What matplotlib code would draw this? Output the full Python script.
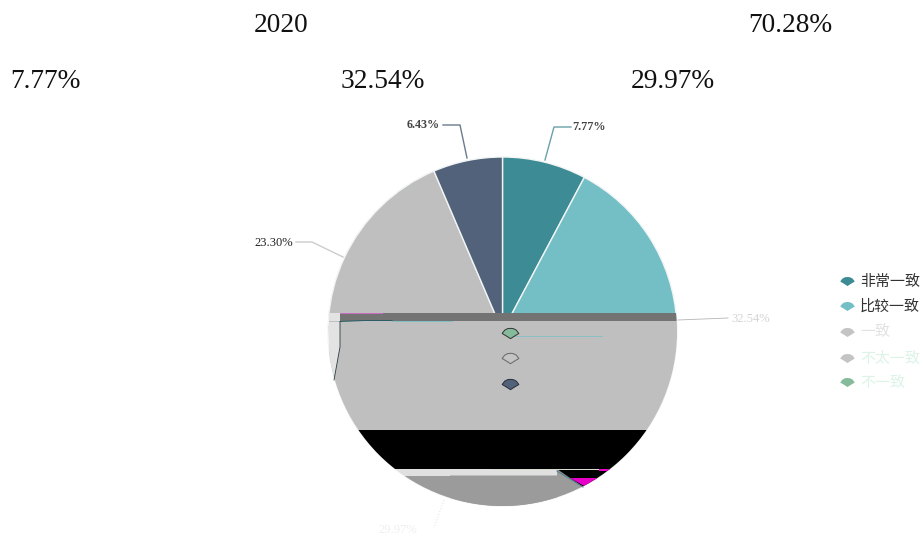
import matplotlib
matplotlib.use('Agg')
import matplotlib.pyplot as plt
from matplotlib.patches import Circle, Polygon, Rectangle
from matplotlib.path import Path

plt.rcParams['font.family'] = ['Liberation Serif', 'DejaVu Serif']

# slices, clockwise from 12 o'clock
categories = ['非常一致', '比较一致', '一致', '不太一致', '不一致']
shares = [7.77, 32.54, 29.97, 23.30, 6.43]
slice_colors = ['#3d8b94', '#74bfc6', '#9b9b9b', '#bfbfbf', '#51627a']
legend_colors = ['#3d8b94', '#74bfc6', '#c4c4c4', '#c4c4c4', '#85bb9a']
legend_text_colors = ['#333333', '#333333', '#e2e2e2', '#dcf3e8', '#dcf3e8']

heading_texts = ['2020', '70.28%', '7.77%', '32.54%', '29.97%']
heading_x = [254, 748, 10, 341, 631]
heading_y = [26, 26, 81, 81, 81]

fig = plt.figure(figsize=(9.23, 5.41), dpi=100)
ax = fig.add_axes([0, 0, 1, 1])

# y runs downwards so everything below is in picture pixels
cx, cy, r = 502.5, 331.5, 174.5
wedges, _ = ax.pie(shares, colors=slice_colors, center=(cx, cy), radius=r,
                   startangle=-90, counterclock=True,
                   wedgeprops={'edgecolor': '#f2f5f5', 'linewidth': 1.0})
ax.set_xlim(0, 923)
ax.set_ylim(541, 0)
ax.axis('off')

for t, x, y in zip(heading_texts, heading_x, heading_y):
    ax.text(x, y, t, fontsize=19.7, color='#111111', ha='left', va='center')

# leader lines and small labels
ax.plot([545, 554, 571], [160, 127, 127], color='#6aa0a8', lw=1)
ax.text(572, 127, '%.2f%%' % shares[0], fontsize=8.7, color='#444444',
        ha='left', va='center', fontweight='bold')
ax.plot([467, 460, 443], [158, 125, 125], color='#6b7a90', lw=1)
ax.text(440, 125, '%.2f%%' % shares[4], fontsize=8.7, color='#444444',
        ha='right', va='center', fontweight='bold')
ax.plot([343, 312, 296], [257, 242, 242], color='#cccccc', lw=1)
ax.text(293, 243, '%.2f%%' % shares[3], fontsize=9, color='#222222',
        ha='right', va='center')
ax.plot([678, 728], [320, 318], color='#b5b5b5', lw=0.6)
ax.text(731, 319, '%.2f%%' % shares[1], fontsize=9, color='#d4d4d4',
        ha='left', va='center')
ax.plot([444, 434], [500, 528], color='#e6e6e6', lw=0.8, ls=':')
ax.text(378, 530, '%.2f%%' % shares[2], fontsize=9, color='#efefef',
        ha='left', va='center')

# the broken bands over the lower half, kept inside the pie circle
clip = Circle((cx, cy), r, transform=ax.transData)
bands = [
    (329, 313, 12, 70, '#e3e3e3'),
    (329, 321, 350, 109, '#bfbfbf'),
    (340, 312.5, 338, 8.5, '#737373'),
    (329, 430, 350, 39, '#000000'),
    (329, 469, 228, 7, '#e0e0e0'),
    (329, 475.5, 228, 33, '#9b9b9b'),
]
for x, y, w, h, c in bands:
    p = Rectangle((x, y), w, h, facecolor=c, edgecolor='none', zorder=3)
    ax.add_patch(p)
    p.set_clip_path(clip)

polys = [
    ([(329, 322), (340, 322), (340, 347), (334, 381), (329, 381)], '#e3e3e3'),
    ([(557, 469), (680, 469), (680, 510), (583, 510), (583, 487)], '#000000'),
    ([(557, 471), (583, 487), (600, 510), (450, 510), (450, 475.5), (557, 475.5)], '#9b9b9b'),
    ([(570, 478), (600, 478), (585, 486.5)], '#e600c8'),
    ([(599, 469), (615, 469), (615, 470.5), (599, 470.5)], '#e600c8'),
    ([(493, 469), (599, 469), (599, 470), (493, 470)], '#d8ddd0'),
    ([(340, 312.5), (383, 312.5), (383, 313.5), (340, 313.5)], '#c86cc0'),
]
for pts, c in polys:
    p = Polygon(pts, closed=True, facecolor=c, edgecolor='none', zorder=4)
    ax.add_patch(p)
    p.set_clip_path(clip)

ax.plot([340, 365, 392], [321.5, 320.5, 320.5], color='#2a5d66', lw=0.7, zorder=5)
ax.plot([392, 452], [321, 321], color='#74bfc6', lw=0.6, zorder=5)
ax.plot([340, 340, 334], [322, 347, 380], color='#2a3a40', lw=0.6, zorder=5)
ax.plot([512, 602], [335.5, 335.5], color='#74bfc6', lw=0.5, zorder=5)
ax.plot([557, 583], [471, 487], color='#5a7f90', lw=0.8, zorder=5)

# rounded diamond used by the legend
diamond = Path([(-1, 0), (-0.7, 0.4), (-0.35, 0.58), (0, 0.62), (0.35, 0.58), (0.7, 0.4), (1, 0),
                (0.5, -0.3), (0, -0.62), (-0.5, -0.3), (-1, 0)], closed=True)

ax.plot([509.5], [333], marker=diamond, ms=12, mfc='#85bb9a', mec='#333333', mew=0.7, zorder=6)
ax.plot([509.5], [358], marker=diamond, ms=12, mfc='#c4c4c4', mec='#707070', mew=0.8, zorder=6)
ax.plot([509.5], [384], marker=diamond, ms=12, mfc='#51627a', mec='#2c2c3c', mew=0.7, zorder=6)

legend_y = [281, 306, 332, 358, 382]
for name, mc, tc, y in zip(categories, legend_colors, legend_text_colors, legend_y):
    ax.plot([847], [y], marker=diamond, ms=10.5, mfc=mc, mec='none', zorder=6)
    ax.text(860, y + 0.5, name, fontsize=10.8, color=tc, ha='left', va='center',
            family=['Noto Sans CJK SC', 'DejaVu Sans'])

fig.savefig('out.png', dpi=100, facecolor='white')
